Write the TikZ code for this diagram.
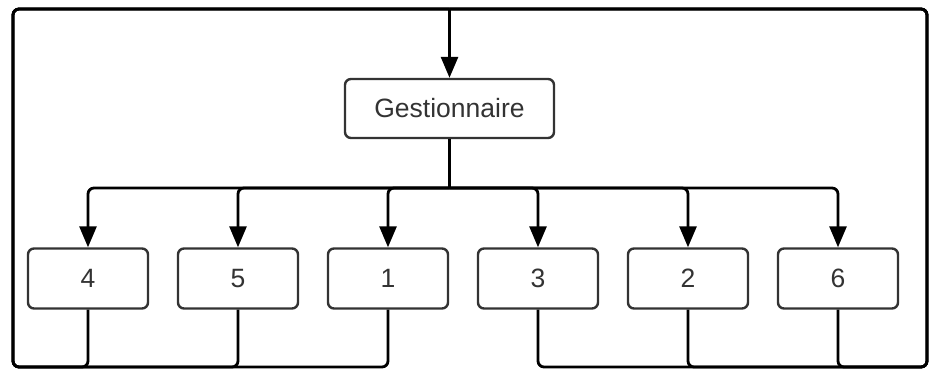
\documentclass[tikz,border=0pt]{standalone}
\usepackage{fontspec}
\setmainfont{Liberation Sans}
\usetikzlibrary{arrows.meta}
\definecolor{ink}{HTML}{333333}
\tikzset{
  box/.style={draw=ink, line width=2.4pt, rounded corners=6pt, fill=white,
    minimum width=120pt, minimum height=60pt, inner sep=0pt,
    text=ink, font=\fontsize{26.5}{30}\selectfont},
  conn/.style={draw=black, line width=2.8pt, rounded corners=6pt},
  arrowconn/.style={conn, -{Triangle[length=21pt, width=17pt]}},
}
\begin{document}
\begin{tikzpicture}[x=1pt, y=-1pt]
  \useasboundingbox (0,0) rectangle (933,370);

  % manager and the six units
  \node[box, minimum width=209pt, minimum height=59pt] (gest) at (449.5,108.5) {Gestionnaire};
  \node[box] (b4) at (88,278.5) {4};
  \node[box] (b5) at (238,278.5) {5};
  \node[box] (b1) at (388,278.5) {1};
  \node[box] (b3) at (538,278.5) {3};
  \node[box] (b2) at (688,278.5) {2};
  \node[box] (b6) at (838,278.5) {6};

  \coordinate (top) at (449.5,9);
  \coordinate (split) at (449.5,188);
  \coordinate (bl) at (13,367);
  \coordinate (br) at (927,367);

  % feedback loops back to the manager
  \foreach \b in {b4,b5,b1}
    \draw[conn] (\b.south) |- (bl) |- (top);
  \foreach \b in {b3,b2,b6}
    \draw[conn] (\b.south) |- (br) |- (top);
  \draw[arrowconn] (top) -- (gest.north);

  % distribution to the units
  \draw[conn] (gest.south) -- (split);
  \foreach \b in {b4,b5,b1,b3,b2,b6}
    \draw[arrowconn] (split) -| (\b.north);
\end{tikzpicture}
\end{document}
